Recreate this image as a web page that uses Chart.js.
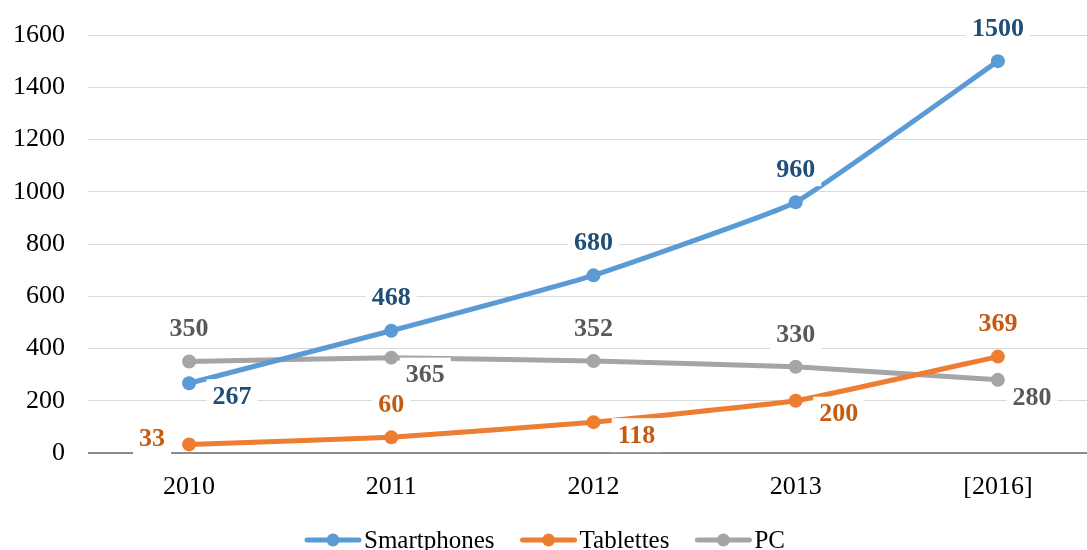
<!DOCTYPE html>
<html>
<head>
<meta charset="utf-8">
<script src="https://cdn.jsdelivr.net/npm/chart.js@4.4.1/dist/chart.umd.min.js"></script>
<style>
  html, body { margin: 0; padding: 0; overflow: hidden; background: #fff; }
  #wrap { width: 1106px; height: 550px; }
</style>
</head>
<body>
<div id="wrap"><canvas id="chart"></canvas></div>
<script>
// data
const years = ['2010', '2011', '2012', '2013', '[2016]'];
const smartphones = [267, 468, 680, 960, 1500];
const tablettes = [33, 60, 118, 200, 369];
const pc = [350, 365, 352, 330, 280];
const yMax = 1600;
const yStep = 200;

// where each data label sits relative to its point
const smartLabelPos = ['belowRight', 'above', 'above', 'above', 'above'];
const tabLabelPos = ['left', 'above', 'belowRight', 'belowRight', 'above'];
const pcLabelPos = ['above', 'right', 'above', 'above', 'right'];

const offsets = {
    above: [0, -33],
    belowRight: [43, 13],
    right: [34, 17],
    left: [-37, -6]
};

const FONT = '"Liberation Serif", "Times New Roman", serif';

//draws the value labels with a white box behind them
const valueLabels = {
    id: 'valueLabels',
    afterDatasetsDraw(chart) {
        const ctx = chart.ctx;
        ctx.save();
        ctx.font = 'bold 26px ' + FONT;
        ctx.textAlign = 'center';
        ctx.textBaseline = 'middle';
        chart.data.datasets.forEach((ds, i) => {
            const meta = chart.getDatasetMeta(i);
            meta.data.forEach((pt, j) => {
                const off = offsets[ds.labelPos[j]];
                const x = pt.x + off[0];
                const y = pt.y + off[1];
                const text = String(ds.data[j]);
                const w = ctx.measureText(text).width;
                ctx.fillStyle = '#fff';
                ctx.fillRect(x - w / 2 - 6, y - 17, w + 12, 34);
                ctx.fillStyle = ds.labelColor;
                ctx.fillText(text, x, y + 1);
            });
        });
        ctx.restore();
    }
};

//legend with a line + dot swatch like the original
const lineLegend = {
    id: 'lineLegend',
    afterDraw(chart) {
        const ctx = chart.ctx;
        const y = 540;
        const swatch = 52;
        ctx.save();
        ctx.font = '25px ' + FONT;
        const items = chart.data.datasets.map(ds => ({
            label: ds.label,
            color: ds.borderColor,
            w: swatch + 5 + ctx.measureText(ds.label).width
        }));
        const gap = 28;
        const total = items.reduce((s, it) => s + it.w, 0) + gap * (items.length - 1);
        let x = 546 - total / 2;
        items.forEach(it => {
            ctx.strokeStyle = it.color;
            ctx.lineWidth = 5;
            ctx.lineCap = 'round';
            ctx.beginPath();
            ctx.moveTo(x, y);
            ctx.lineTo(x + swatch, y);
            ctx.stroke();
            ctx.fillStyle = it.color;
            ctx.beginPath();
            ctx.arc(x + swatch / 2, y, 6.5, 0, Math.PI * 2);
            ctx.fill();
            ctx.fillStyle = '#000';
            ctx.textBaseline = 'middle';
            ctx.textAlign = 'left';
            ctx.fillText(it.label, x + swatch + 5, y + 1);
            x += it.w + gap;
        });
        ctx.restore();
    }
};

function makeSet(label, data, color, labelColor, labelPos) {
    return {
        label: label,
        data: data,
        borderColor: color,
        backgroundColor: color,
        pointBackgroundColor: color,
        pointBorderWidth: 0,
        pointRadius: 7,
        borderWidth: 5,
        tension: 0.1,
        labelColor: labelColor,
        labelPos: labelPos
    };
}

new Chart(document.getElementById('chart'), {
    type: 'line',
    data: {
        labels: years,
        datasets: [
            makeSet('Smartphones', smartphones, '#5B9BD5', '#1F4E79', smartLabelPos),
            makeSet('Tablettes', tablettes, '#ED7D31', '#C55A11', tabLabelPos),
            makeSet('PC', pc, '#A5A5A5', '#595959', pcLabelPos)
        ]
    },
    options: {
        responsive: true,
        maintainAspectRatio: false,
        animation: false,
        layout: { padding: { top: 35, right: 1, left: 0, bottom: 0 } },
        plugins: {
            legend: { display: false },
            tooltip: { enabled: false }
        },
        scales: {
            x: {
                offset: true,
                grid: { display: false, drawTicks: false },
                border: { display: false },
                ticks: { color: '#000', font: { family: FONT, size: 26 }, padding: 19 },
                afterFit: s => { s.height = 97; }
            },
            y: {
                min: 0,
                max: yMax,
                ticks: {
                    stepSize: yStep,
                    color: '#000',
                    font: { family: FONT, size: 26 },
                    padding: 0,
                    callback: v => String(v)
                },
                // invisible tick marks give the gap between labels and plot
                grid: {
                    drawTicks: true,
                    tickLength: 23,
                    tickColor: 'rgba(0,0,0,0)',
                    color: c => c.tick.value === 0 ? '#8c8c8c' : '#d9d9d9',
                    lineWidth: c => c.tick.value === 0 ? 2 : 1
                },
                border: { display: false },
                afterFit: s => { s.width = 88; }
            }
        }
    },
    plugins: [valueLabels, lineLegend]
});
</script>
</body>
</html>
